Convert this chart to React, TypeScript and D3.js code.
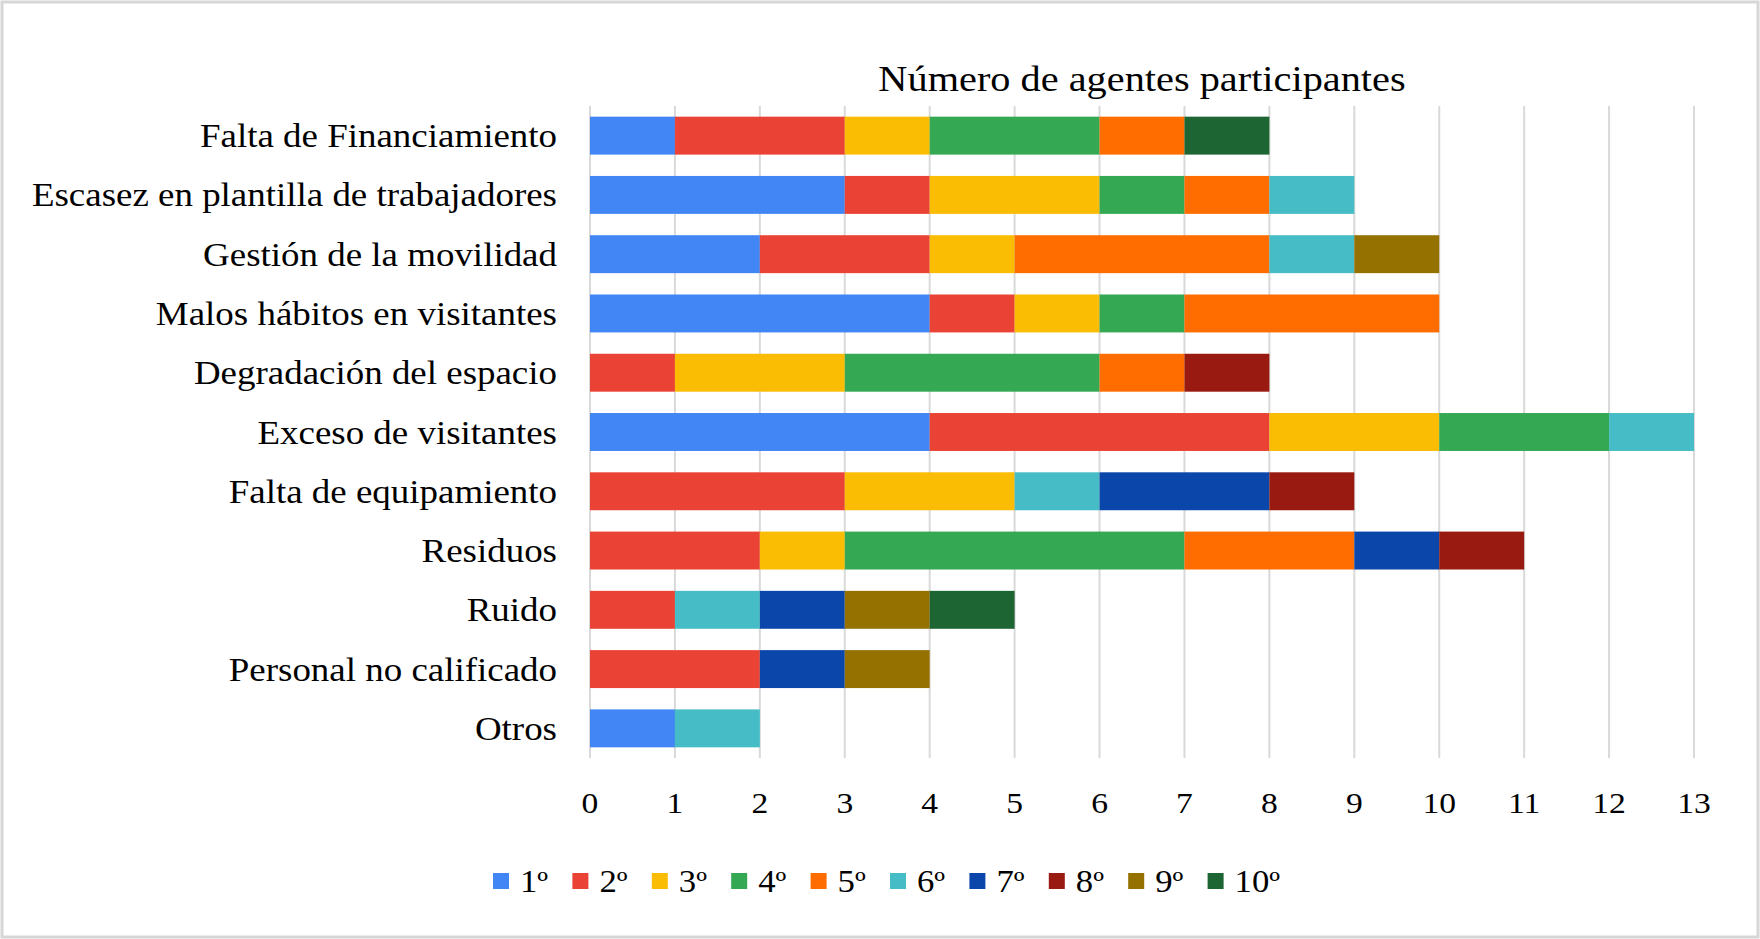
import * as d3 from "d3";

const categories = [
  "Falta de Financiamiento",
  "Escasez en plantilla de trabajadores",
  "Gestión de la movilidad",
  "Malos hábitos en visitantes",
  "Degradación del espacio",
  "Exceso de visitantes",
  "Falta de equipamiento",
  "Residuos",
  "Ruido",
  "Personal no calificado",
  "Otros",
];

const ranks = ["1º", "2º", "3º", "4º", "5º", "6º", "7º", "8º", "9º", "10º"];

const rank1 = [1, 3, 2, 4, 0, 4, 0, 0, 0, 0, 1];
const rank2 = [2, 1, 2, 1, 1, 4, 3, 2, 1, 2, 0];
const rank3 = [1, 2, 1, 1, 2, 2, 2, 1, 0, 0, 0];
const rank4 = [2, 1, 0, 1, 3, 2, 0, 4, 0, 0, 0];
const rank5 = [1, 1, 3, 3, 1, 0, 0, 2, 0, 0, 0];
const rank6 = [0, 1, 1, 0, 0, 1, 1, 0, 1, 0, 1];
const rank7 = [0, 0, 0, 0, 0, 0, 2, 1, 1, 1, 0];
const rank8 = [0, 0, 0, 0, 1, 0, 1, 1, 0, 0, 0];
const rank9 = [0, 0, 1, 0, 0, 0, 0, 0, 1, 1, 0];
const rank10 = [1, 0, 0, 0, 0, 0, 0, 0, 1, 0, 0];

const series = [rank1, rank2, rank3, rank4, rank5, rank6, rank7, rank8, rank9, rank10];

const colors = [
  "#4285F4", "#EA4335", "#FBBC04", "#34A853", "#FF6D01",
  "#46BDC6", "#0B47AB", "#991A10", "#957100", "#1D6532",
];

const xTicks = d3.range(0, 14);

const W = 1760;
const H = 939;
const font = "'Liberation Serif', 'Times New Roman', serif";
const stretch = 1.12;

type Row = { [k: string]: number | string };

export default function App() {
  const x = d3.scaleLinear().domain([0, 13]).range([590, 1694]);
  const y = d3.scaleBand<string>().domain(categories).range([106, 758]).paddingInner(0.36).paddingOuter(0.18);

  const rows: Row[] = categories.map((c, i) => {
    const r: Row = { cat: c };
    ranks.forEach((k, j) => (r[k] = series[j][i]));
    return r;
  });
  const stacked = d3.stack<Row>().keys(ranks).value((d, k) => d[k] as number)(rows);

  const [gy0, gy1] = y.range();

  return (
    <svg width={W} height={H} style={{ position: "absolute", left: 0, top: 0, background: "#fff" }}>
      <rect x={2} y={2} width={W - 4} height={H - 4} fill="#fff" stroke="#d6d6d6" strokeWidth={3} />

      <text transform={`translate(${(x(0) + x(13)) / 2},91) scale(${stretch},1)`} textAnchor="middle" fontFamily={font} fontSize={36} fill="#000">
        Número de agentes participantes
      </text>

      <g>
        {xTicks.map((t) => (
          <line key={t} x1={x(t)} x2={x(t)} y1={gy0} y2={gy1} stroke="#d9d9d9" strokeWidth={2} />
        ))}
      </g>

      <g>
        {stacked.map((s, j) => (
          <g key={s.key} fill={colors[j]}>
            {s.map((d, i) =>
              d[1] > d[0] ? (
                <rect key={i} x={x(d[0])} y={y(categories[i])} width={x(d[1]) - x(d[0])} height={y.bandwidth()} />
              ) : null
            )}
          </g>
        ))}
      </g>

      <g fontFamily={font} fill="#000">
        {categories.map((c) => (
          <text key={c} transform={`translate(557,${(y(c) as number) + y.bandwidth() / 2}) scale(${stretch},1)`} dy="0.35em" textAnchor="end" fontSize={33}>
            {c}
          </text>
        ))}
        {xTicks.map((t) => (
          <text key={t} transform={`translate(${x(t)},813) scale(${stretch},1)`} textAnchor="middle" fontSize={30}>
            {t}
          </text>
        ))}
      </g>

      <g fontFamily={font} fill="#000">
        {ranks.map((r, i) => {
          const lx = 493 + i * 79.4;
          return (
            <g key={r}>
              <rect x={lx} y={873} width={16} height={16} fill={colors[i]} />
              <text transform={`translate(${lx + 27},892) scale(${stretch},1)`} fontSize={31}>
                {r}
              </text>
            </g>
          );
        })}
      </g>
    </svg>
  );
}
